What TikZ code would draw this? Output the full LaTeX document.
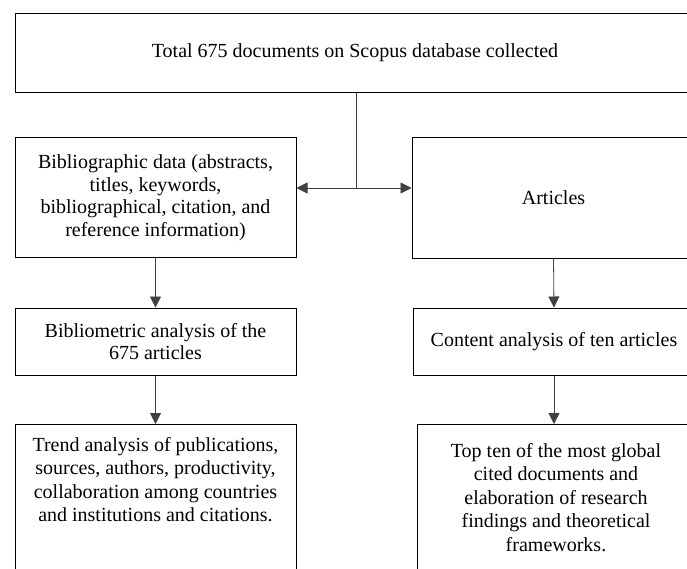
\documentclass[tikz,border=0pt]{standalone}
\usepackage{fontspec}
\setmainfont{Liberation Serif}
\usetikzlibrary{arrows.meta}
\usetikzlibrary{positioning}

\begin{document}
\begin{tikzpicture}[x=1pt, y=-1pt,
        box/.style={rectangle, draw=black, line width=1pt, inner sep=0pt, align=center,
            font=\fontsize{20}{22.5}\selectfont},
        txt/.style={align=center, inner sep=0pt, font=\fontsize{20}{23.5}\selectfont},
        arrow/.style={draw=black!75, line width=0.8pt, -{Triangle[length=11pt, width=11pt]}}]
    \useasboundingbox (0, 0) rectangle (687, 568);
    \clip (0, 0) rectangle (687, 568);
    % top row
    \node[box, minimum width=680, minimum height=79] (total) at (355, 52.5)
        {Total 675 documents on Scopus database collected};
    % second row
    \node[box, minimum width=281, minimum height=120] (biblio) at (155.5, 197.5)
        {Bibliographic data (abstracts,\\ titles, keywords,\\ bibliographical, citation, and\\ reference information)};
    \node[box, minimum width=283, minimum height=121] (articles) at (553.5, 197.5) {Articles};
    % third row
    \node[box, minimum width=281, minimum height=67] (bibanalysis) at (155.5, 341.5)
        {Bibliometric analysis of the\\ 675 articles};
    \node[box, minimum width=282, minimum height=67] (content) at (554, 341.5)
        {Content analysis of ten articles};
    % bottom row, cut off by the page edge
    \node[box, minimum width=281, minimum height=170, anchor=north] (trendbox) at (155.5, 424) {};
    \node[txt, anchor=north] (trend) at ([yshift=-13]trendbox.north)
        {Trend analysis of publications,\\ sources, authors, productivity,\\ collaboration among countries\\ and institutions and citations.};
    \node[box, minimum width=278, minimum height=170, anchor=north] (toptenbox) at (556, 424) {};
    \node[txt, anchor=north] (topten) at ([yshift=-19]toptenbox.north)
        {Top ten of the most global\\ cited documents and\\ elaboration of research\\ findings and theoretical\\ frameworks.};
    % connectors
    \coordinate (split) at (356, 188);
    \draw[draw=black!75, line width=0.8pt] (total.south -| split) -- (split);
    \draw[arrow] (split) -- (biblio.east |- split);
    \draw[arrow] (split) -- (articles.west |- split);
    \draw[arrow] (biblio.south) -- (bibanalysis.north);
    \draw[arrow] (articles.south) -- (content.north);
    \draw[arrow] (bibanalysis.south) -- (trendbox.north);
    \draw[arrow] (content.south) -- (content.south |- toptenbox.north);
\end{tikzpicture}
\end{document}
